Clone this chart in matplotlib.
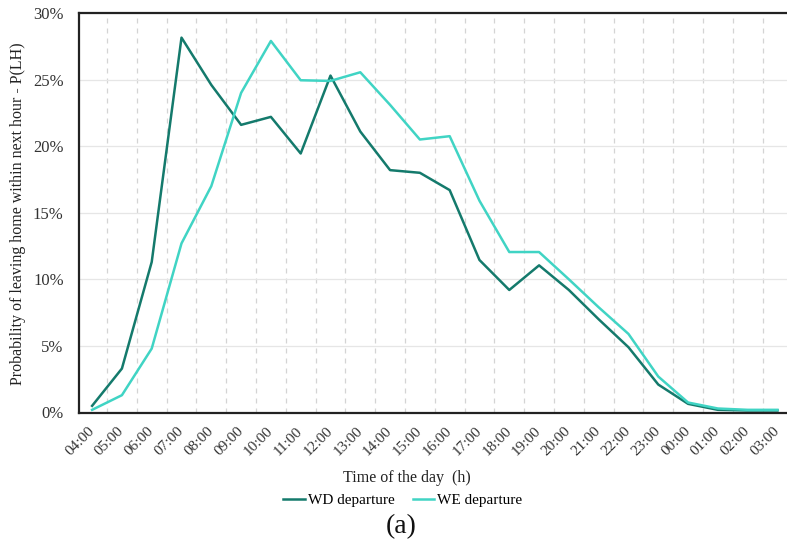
import matplotlib
matplotlib.use("Agg")
import matplotlib.pyplot as plt
from matplotlib.ticker import FuncFormatter, MultipleLocator, FixedLocator

hours = ["04:00", "05:00", "06:00", "07:00", "08:00", "09:00", "10:00", "11:00",
         "12:00", "13:00", "14:00", "15:00", "16:00", "17:00", "18:00", "19:00",
         "20:00", "21:00", "22:00", "23:00", "00:00", "01:00", "02:00", "03:00"]
wd_departure = [0.5, 3.3, 11.3, 28.15, 24.6, 21.6, 22.2, 19.45, 25.3, 21.1, 18.2, 18.0,
                16.7, 11.45, 9.2, 11.05, 9.2, 7.0, 4.9, 2.1, 0.65, 0.2, 0.15, 0.15]
we_departure = [0.2, 1.3, 4.8, 12.7, 17.0, 24.0, 27.9, 24.95, 24.9, 25.55, 23.1, 20.5,
                20.75, 15.9, 12.05, 12.05, 10.0, 7.9, 5.9, 2.7, 0.75, 0.3, 0.2, 0.2]

plt.rcParams['font.family'] = ['Liberation Serif', 'DejaVu Serif']

W, H = 787, 555
fig = plt.figure(figsize=(W / 100, H / 100), dpi=100)
ax = fig.add_axes([79 / W, 1 - 412.5 / H, (787 - 79) / W, (412.5 - 13) / H])

x = list(range(len(hours)))
ax.plot(x, wd_departure, color="#147a6c", lw=1.8, label="WD departure", zorder=3)
ax.plot(x, we_departure, color="#40d4c4", lw=1.8, label="WE departure", zorder=3)

ax.set_xlim(-0.44, 23.32)
ax.set_ylim(0, 30)
ax.set_xticks(x)
ax.set_xticklabels(hours, rotation=45, ha="right", va="center", rotation_mode="anchor",
                   fontsize=11, color="#333333")
ax.xaxis.set_minor_locator(FixedLocator([i + 0.5 for i in range(-1, 24)]))
ax.yaxis.set_major_locator(MultipleLocator(5))
ax.yaxis.set_major_formatter(FuncFormatter(lambda v, p: f"{v:.0f}%"))
ax.tick_params(axis="y", labelsize=12, length=0, pad=11, labelcolor="#333333")
ax.tick_params(axis="x", which="major", length=0, pad=12)
ax.tick_params(axis="x", which="minor", length=0)

ax.grid(axis="y", which="major", color="#e6e6e6", lw=0.9)
ax.grid(axis="x", which="minor", color="#d4d4d4", lw=0.9, ls=(0, (4, 4)))
ax.grid(axis="x", which="major", visible=False)
ax.set_axisbelow(True)

for s in ["left", "bottom", "top"]:
    ax.spines[s].set_color("#222222")
    ax.spines[s].set_linewidth(1.6)
ax.spines["right"].set_visible(False)

fig.text(18 / W, 1 - 214 / H, "Probability of leaving home within next hour - P(LH)",
         rotation=90, ha="center", va="center", fontsize=11.5, color="#222222")
fig.text(407 / W, 1 - 478 / H, "Time of the day  (h)", ha="center", va="center",
         fontsize=11.5, color="#222222")
fig.legend(loc="center", bbox_to_anchor=(403 / W, 1 - 500 / H), ncol=2, frameon=False,
           fontsize=11, handlelength=1.4, handletextpad=0.2, columnspacing=1.2)
fig.text(401 / W, 1 - 527 / H, "(a)", ha="center", va="center", fontsize=20, color="#111111")

fig.savefig("out.png", dpi=100)
